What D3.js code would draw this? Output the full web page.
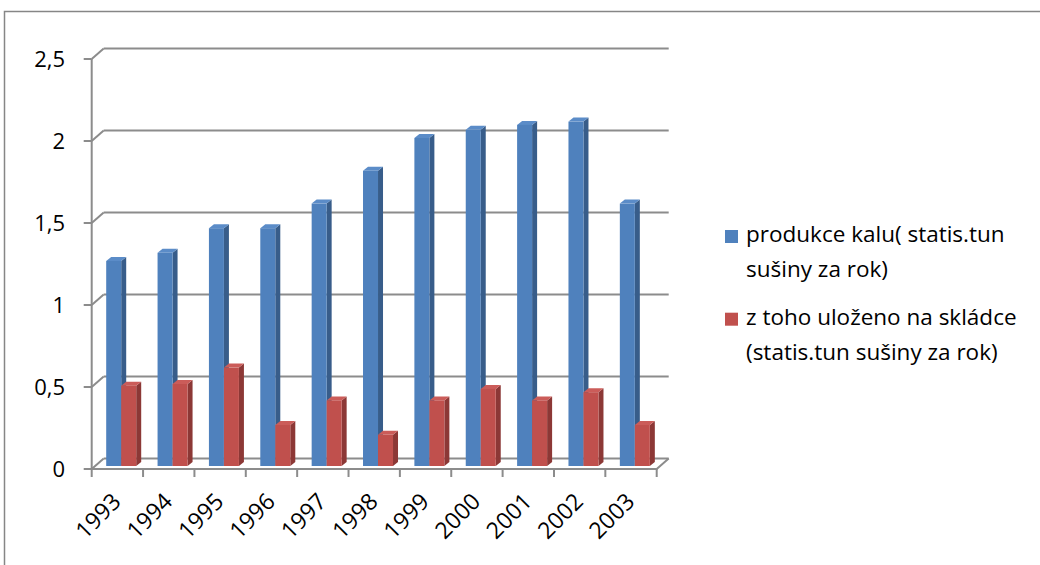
<!DOCTYPE html>
<html>
<head>
<meta charset="utf-8">
<script src="https://cdn.jsdelivr.net/npm/d3@7"></script>
<style>
  body { margin: 0; background: #fff; }
  text { font-family: "Open Sans", "Noto Sans", sans-serif; fill: #000; }
</style>
</head>
<body>
<div id="chart"></div>
<script>
// data
const years = ["1993", "1994", "1995", "1996", "1997", "1998", "1999", "2000", "2001", "2002", "2003"];
const produkce = [1.25, 1.3, 1.45, 1.45, 1.6, 1.8, 2.0, 2.05, 2.08, 2.1, 1.6];
const ulozeno = [0.49, 0.5, 0.6, 0.25, 0.4, 0.19, 0.4, 0.47, 0.4, 0.45, 0.25];
const seriesNames = ["produkce kalu( statis.tun|sušiny za rok)", "z toho uloženo na skládce|(statis.tun sušiny za rok)"];
const yTicks = [0, 0.5, 1, 1.5, 2, 2.5];
const yTickLabels = ["0", "0,5", "1", "1,5", "2", "2,5"];

const W = 1040, H = 565;
const DX = 12, DY = -10.5;      // depth of the back wall
const BDX = 5, BDY = -4;        // depth of each bar

const colors = [
    { front: "#4f81bd", side: "#385d8a", top: "#5b8cc8" },
    { front: "#c0504d", side: "#8c3836", top: "#cb5c59" }
];

let svg = d3.select("#chart")
    .append("svg")
    .attr("width", W)
    .attr("height", H);

// outer frame
svg.append("path")
    .attr("d", "M4.5," + H + "V11.5H" + W)
    .style("fill", "none")
    .style("stroke", "#868686")
    .style("stroke-width", 1.5);

let x = d3.scaleBand().domain(years).range([91.7, 656.7]);
let y = d3.scaleLinear().domain([0, 2.5]).range([469, 59]);
let yBar = d3.scaleLinear().domain([0, 2.5]).range([466, 56]);
let xs = d3.scaleBand().domain([0, 1]).range([0, 30]);

const gridColor = "#8c8c8c";
let grid = svg.append("g")
    .style("stroke", gridColor)
    .style("stroke-width", 2)
    .style("fill", "none");

// back wall gridlines + side wall diagonals
yTicks.forEach(function (t) {
    grid.append("line")
        .attr("x1", x.range()[0] + DX).attr("y1", y(t) + DY)
        .attr("x2", x.range()[1] + DX).attr("y2", y(t) + DY);
    grid.append("line")
        .attr("x1", x.range()[0]).attr("y1", y(t))
        .attr("x2", x.range()[0] + DX).attr("y2", y(t) + DY);
    grid.append("line")
        .attr("x1", x.range()[0] - 8).attr("y1", y(t))
        .attr("x2", x.range()[0]).attr("y2", y(t));
});

// vertical axis
grid.append("line")
    .attr("x1", x.range()[0]).attr("y1", y(2.5))
    .attr("x2", x.range()[0]).attr("y2", y(0));

// floor front edge and right side
grid.append("path")
    .attr("d", "M" + x.range()[0] + "," + y(0) + "H" + x.range()[1] +
        "L" + (x.range()[1] + DX) + "," + (y(0) + DY));

// category ticks
years.concat(["end"]).forEach(function (d, i) {
    let px = x.range()[0] + i * x.step();
    grid.append("line")
        .attr("x1", px).attr("y1", y(0))
        .attr("x2", px).attr("y2", y(0) + 8);
});

// bars
let series = [produkce, ulozeno];
let barW = xs.bandwidth();
let barOff = 14.5;

years.forEach(function (yr, i) {
    series.forEach(function (vals, s) {
        let x0 = x(yr) + barOff + xs(s);
        let x1 = x0 + barW;
        let yt = yBar(vals[i]);
        let yb = yBar(0);
        let g = svg.append("g");
        // side face
        g.append("path")
            .attr("d", "M" + x1 + "," + yb + "L" + x1 + "," + yt +
                "L" + (x1 + BDX) + "," + (yt + BDY) + "L" + (x1 + BDX) + "," + (yb + BDY) + "Z")
            .style("fill", colors[s].side);
        // top face
        g.append("path")
            .attr("d", "M" + x0 + "," + yt + "L" + (x0 + BDX) + "," + (yt + BDY) +
                "L" + (x1 + BDX) + "," + (yt + BDY) + "L" + x1 + "," + yt + "Z")
            .style("fill", colors[s].top);
        // front face
        g.append("rect")
            .attr("x", x0).attr("y", yt)
            .attr("width", barW).attr("height", yb - yt)
            .style("fill", colors[s].front);
    });
});

// y tick labels
svg.append("g").selectAll("text")
    .data(yTicks)
    .enter().append("text")
    .attr("x", 65)
    .attr("y", function (d) { return y(d); })
    .attr("dy", "0.35em")
    .attr("text-anchor", "end")
    .style("font-size", "22px")
    .text(function (d, i) { return yTickLabels[i]; });

// x labels
svg.append("g").selectAll("text")
    .data(years)
    .enter().append("text")
    .attr("transform", function (d) {
        return "translate(" + (x(d) + x.bandwidth() / 2 + 5) + ",503) rotate(-45)";
    })
    .attr("text-anchor", "end")
    .style("font-size", "23px")
    .text(function (d) { return d; });

// legend
let legend = svg.append("g");
let legendY = [230, 312.7];
seriesNames.forEach(function (name, s) {
    legend.append("rect")
        .attr("x", 725).attr("y", legendY[s])
        .attr("width", 13).attr("height", 13)
        .style("fill", colors[s].front);
    name.split("|").forEach(function (line, j) {
        legend.append("text")
            .attr("x", 746)
            .attr("y", legendY[s] + 12 + j * 35)
            .style("font-size", "22.5px")
            .text(line);
    });
});
</script>
</body>
</html>
